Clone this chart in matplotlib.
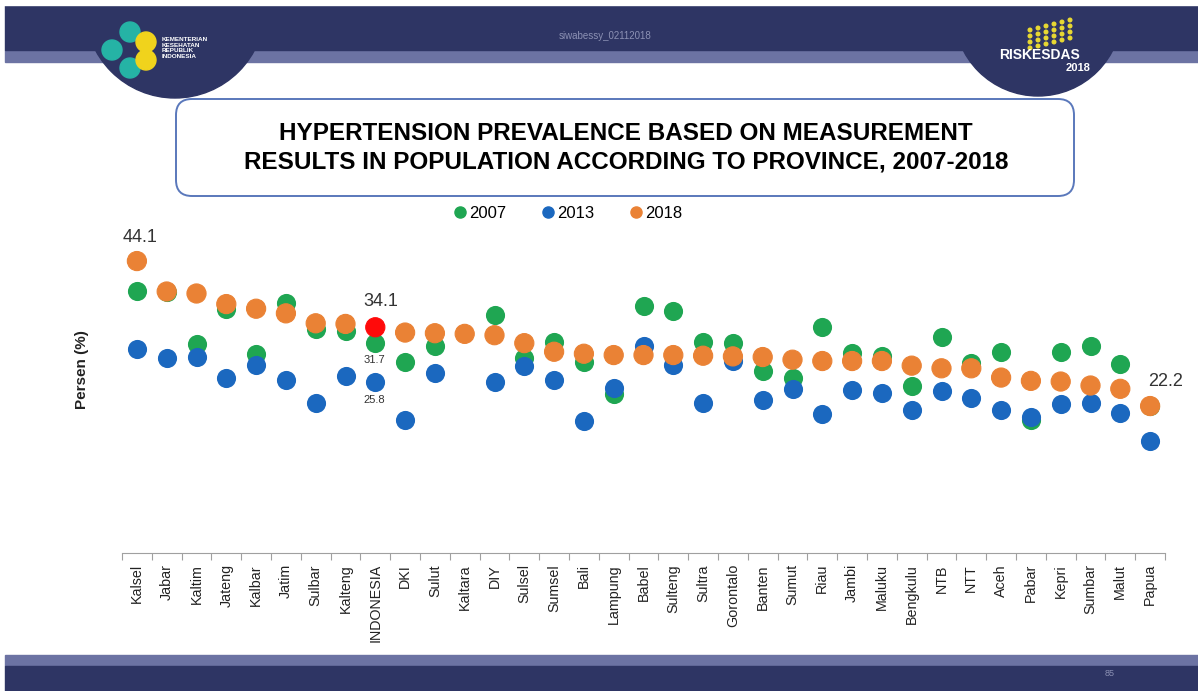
import numpy as np
import matplotlib.pyplot as plt
from matplotlib.patches import Rectangle, Circle, FancyBboxPatch, Ellipse
from matplotlib.lines import Line2D

plt.rcParams['font.family'] = ['Liberation Sans', 'DejaVu Sans']

# === Data ===
provinces = ["Kalsel", "Jabar", "Kaltim", "Jateng", "Kalbar", "Jatim", "Sulbar", "Kalteng",
             "INDONESIA", "DKI", "Sulut", "Kaltara", "DIY", "Sulsel", "Sumsel", "Bali",
             "Lampung", "Babel", "Sulteng", "Sultra", "Gorontalo", "Banten", "Sumut", "Riau",
             "Jambi", "Maluku", "Bengkulu", "NTB", "NTT", "Aceh", "Pabar", "Kepri", "Sumbar",
             "Malut", "Papua"]
y2007 = [39.6, 39.5, 31.5, 36.8, 30.0, 37.8, 33.8, 33.6,
         31.7, 28.9, 31.2, np.nan, 35.9, 29.4, 31.9, 28.9,
         24.0, 37.3, 36.6, 31.8, 31.7, 27.5, 26.4, 34.2,
         30.2, 29.8, 25.3, 32.6, 28.7, 30.3, 20.1, 30.4, 31.3,
         28.5, 22.2]
y2013 = [30.8, 29.4, 29.6, 26.4, 28.4, 26.2, 22.6, 26.8,
         25.8, 20.1, 27.2, np.nan, 25.8, 28.3, 26.1, 20.0,
         24.9, 31.3, 28.4, 22.6, 29.0, 23.1, 24.8, 21.0,
         24.6, 24.2, 21.6, 24.4, 23.4, 21.6, 20.5, 22.5, 22.6,
         21.2, 16.9]
y2018 = [44.1, 39.5, 39.2, 37.6, 36.9, 36.2, 34.7, 34.6,
         34.1, 33.3, 33.2, 33.1, 32.9, 31.7, 30.4, 30.1,
         29.9, 29.9, 29.9, 29.8, 29.7, 29.6, 29.2, 29.0,
         29.0, 29.0, 28.3, 27.9, 27.9, 26.5, 26.0, 25.9, 25.3,
         24.8, 22.2]
years = ["2007", "2013", "2018"]

# === Style ===
GREEN = "#1fa652"
BLUE = "#1b68bf"
ORANGE = "#ea8235"
RED = "#ff0a0a"
NAVY = "#2e3564"
LIGHT_BAND = "#6c73a3"
W, H = 1198, 691

fig = plt.figure(figsize=(W / 100, H / 100), dpi=100)
fig.patch.set_facecolor("white")

# === Slide decoration (pixel coords) ===
bg = fig.add_axes([0, 0, 1, 1])
bg.set_xlim(0, W)
bg.set_ylim(H, 0)
bg.axis("off")

bg.add_patch(Rectangle((5, 50), W, 12, color=LIGHT_BAND, zorder=1))
bg.add_patch(Rectangle((5, 5), W, 45, color=NAVY, zorder=1))
bg.add_patch(Circle((175, 8), 90, color=NAVY, zorder=2))
bg.add_patch(Circle((1038, 12), 84, color=NAVY, zorder=2))
bg.add_patch(Rectangle((0, 0), W, 5, color="white", zorder=6))
bg.add_patch(Rectangle((5, 655), W, 11, color=LIGHT_BAND, zorder=1))
bg.add_patch(Rectangle((5, 666), W, 30, color=NAVY, zorder=1))

# left logo
for (cx, cy, c) in [(112, 50, "#25b3a5"), (130, 32, "#25b3a5"), (130, 68, "#25b3a5"),
                    (146, 42, "#f0d31c"), (146, 60, "#f0d31c")]:
    bg.add_patch(Ellipse((cx, cy), 20, 20, color=c, zorder=3))
bg.text(162, 48, "KEMENTERIAN\nKESEHATAN\nREPUBLIK\nINDONESIA", color="white",
        fontsize=4.6, fontweight="bold", va="center", ha="left", linespacing=1.1, zorder=3)
bg.text(605, 36, "siwabessy_02112018", color="#8c91b4", fontsize=7, ha="center", va="center", zorder=3)

# right logo
for i in range(6):
    for j in range(4):
        bg.add_patch(Circle((1030 + i * 8, 30 + j * 6 - i * 2), 1.8, color="#e8d832", zorder=3))
bg.text(1040, 55, "RISKESDAS", color="white", fontsize=10, fontweight="bold",
        ha="center", va="center", zorder=4)
bg.text(1078, 68, "2018", color="white", fontsize=8, fontweight="bold",
        ha="center", va="center", zorder=4)
bg.text(1110, 673, "85", color="#8c91b4", fontsize=6.5, ha="center", va="center", zorder=3)

# title box
bg.add_patch(FancyBboxPatch((176, 99), 898, 97, boxstyle="round,pad=0,rounding_size=16",
                            facecolor="white", edgecolor="#5a78bb", linewidth=1.4, zorder=3))
bg.text(626, 148, "HYPERTENSION PREVALENCE BASED ON MEASUREMENT\n"
        "RESULTS IN POPULATION ACCORDING TO PROVINCE, 2007-2018",
        fontsize=17.5, fontweight="bold", ha="center", va="center", linespacing=1.32, zorder=4)

# === Main chart ===
ax = fig.add_axes([122 / W, 1 - 553 / H, (1165 - 122) / W, (553 - 222) / H])
ax.patch.set_alpha(0)
x = np.arange(len(provinces))
ms = 190
ax.scatter(x, y2007, s=ms, color=GREEN, zorder=3, linewidths=0)
ax.scatter(x, y2013, s=ms, color=BLUE, zorder=4, linewidths=0)
c18 = [RED if p == "INDONESIA" else ORANGE for p in provinces]
ax.scatter(x, y2018, s=ms, color=c18, edgecolors=c18, zorder=5, linewidths=0.8)

ax.set_xlim(-0.5, len(provinces) - 0.5)
ax.set_ylim(0, 50)
ax.set_xticks(x)
ax.set_xticklabels(provinces, rotation=90, fontsize=10.3, color="#222222")
ax.set_xticks(np.arange(-0.5, len(provinces)), minor=True)
ax.tick_params(axis="x", which="major", length=0, pad=8)
ax.tick_params(axis="x", which="minor", length=5, color="#a0a0a0", width=0.8)
ax.set_yticks([])
for side in ["left", "right", "top"]:
    ax.spines[side].set_visible(False)
ax.spines["bottom"].set_color("#a0a0a0")
ax.spines["bottom"].set_linewidth(0.8)

# value labels
ind = provinces.index("INDONESIA")
ax.annotate(f"{y2018[0]:.1f}", (0, y2018[0]), xytext=(2, 11), textcoords="offset points",
            ha="center", va="bottom", fontsize=13, color="#333333")
ax.annotate(f"{y2018[ind]:.1f}", (ind, y2018[ind]), xytext=(4, 12.5), textcoords="offset points",
            ha="center", va="bottom", fontsize=13, color="#333333")
ax.annotate(f"{y2007[ind]:.1f}", (ind, y2007[ind]), xytext=(-1, -12), textcoords="offset points",
            ha="center", va="center", fontsize=8, color="#333333")
ax.annotate(f"{y2013[ind]:.1f}", (ind, y2013[ind]), xytext=(-1, -13), textcoords="offset points",
            ha="center", va="center", fontsize=8, color="#333333")
last = len(provinces) - 1
ax.annotate(f"{y2018[last]:.1f}", (last, y2018[last]), xytext=(11, 18), textcoords="offset points",
            ha="center", va="center", fontsize=13, color="#333333")

fig.text(82 / W, 1 - 370 / H, "Persen (%)", rotation=90, fontsize=11, fontweight="bold",
         ha="center", va="center", color="#222222")

# legend
handles = [Line2D([], [], marker="o", linestyle="", markersize=8, color=c) for c in (GREEN, BLUE, ORANGE)]
fig.legend(handles, years, loc="center", bbox_to_anchor=(567 / W, 1 - 213 / H), ncol=3,
           frameon=False, fontsize=12, handletextpad=0.05, columnspacing=2.0, handlelength=1.0)

fig.savefig("out.png", dpi=100)
